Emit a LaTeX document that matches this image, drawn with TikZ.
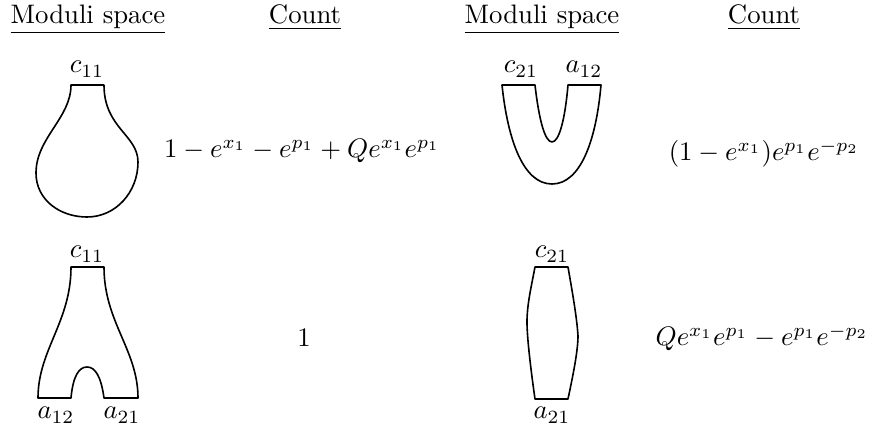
\documentclass[tikz,border=0pt]{standalone}
\begin{document}
\begin{tikzpicture}[x=0.3738pt,y=-0.3738pt,
  surf/.style={draw=black,line width=0.6pt,line join=round},
  lbl/.style={anchor=base,inner sep=0pt,outer sep=0pt}]
\useasboundingbox (0,0) rectangle (870,430);
% headers
\node[lbl] (h1) at (88,24) {\underline{Moduli space}};
\node[lbl] (h2) at (305,24) {\underline{Count}};
\node[lbl] (h3) at (542,24) {\underline{Moduli space}};
\node[lbl] (h4) at (764,24) {\underline{Count}};
% shape 1: teardrop
\draw[surf] (104,85) -- (71,85)
  .. controls (71,118) and (36,138) .. (36,173)
  .. controls (36,200) and (60,217) .. (87,217)
  .. controls (116,217) and (138,192) .. (138,162)
  .. controls (138,135) and (104,128) .. (104,85);
\node[lbl] (l1) at (87,73) {$c_{11}$};
\node[lbl] (f1) at (302,158) {$1-e^{x_1}-e^{p_1}+Qe^{x_1}e^{p_1}$};
% shape 2: U
\draw[surf] (535,85) -- (502,85)
  .. controls (508,142) and (524,184) .. (552,184)
  .. controls (580,184) and (596,142) .. (601,85)
  -- (568,85)
  .. controls (565,120) and (559,142) .. (552,142)
  .. controls (545,142) and (539,120) .. (535,85) -- cycle;
\node[lbl] (l2) at (521,73) {$c_{21}$};
\node[lbl] (l3) at (584,73) {$a_{12}$};
\node[lbl] (f2) at (764,161) {$(1-e^{x_1})e^{p_1}e^{-p_2}$};
% shape 3: pants
\draw[surf] (71,267)
  .. controls (71,322) and (38,350) .. (38,398)
  -- (71,398)
  .. controls (73,376) and (79,367) .. (87,367)
  .. controls (95,367) and (101,376) .. (104,398)
  -- (138,398)
  .. controls (138,350) and (104,322) .. (104,267) -- cycle;
\node[lbl] (l4) at (87,258) {$c_{11}$};
\node[lbl] (l5) at (56,419) {$a_{12}$};
\node[lbl] (l6) at (122,419) {$a_{21}$};
\node[lbl] (f3) at (304,347) {$1$};
% shape 4: barrel
\draw[surf] (535,267) -- (568,267)
  .. controls (572,290) and (577,318) .. (578,336)
  .. controls (578,352) and (572,380) .. (568,399)
  -- (535,399)
  .. controls (532,378) and (527,340) .. (527,322)
  .. controls (527,305) and (531,288) .. (535,267) -- cycle;
\node[lbl] (l7) at (552,258) {$c_{21}$};
\node[lbl] (l8) at (552,419) {$a_{21}$};
\node[lbl] (f4) at (762,346) {$Qe^{x_1}e^{p_1}-e^{p_1}e^{-p_2}$};
\end{tikzpicture}
\end{document}
